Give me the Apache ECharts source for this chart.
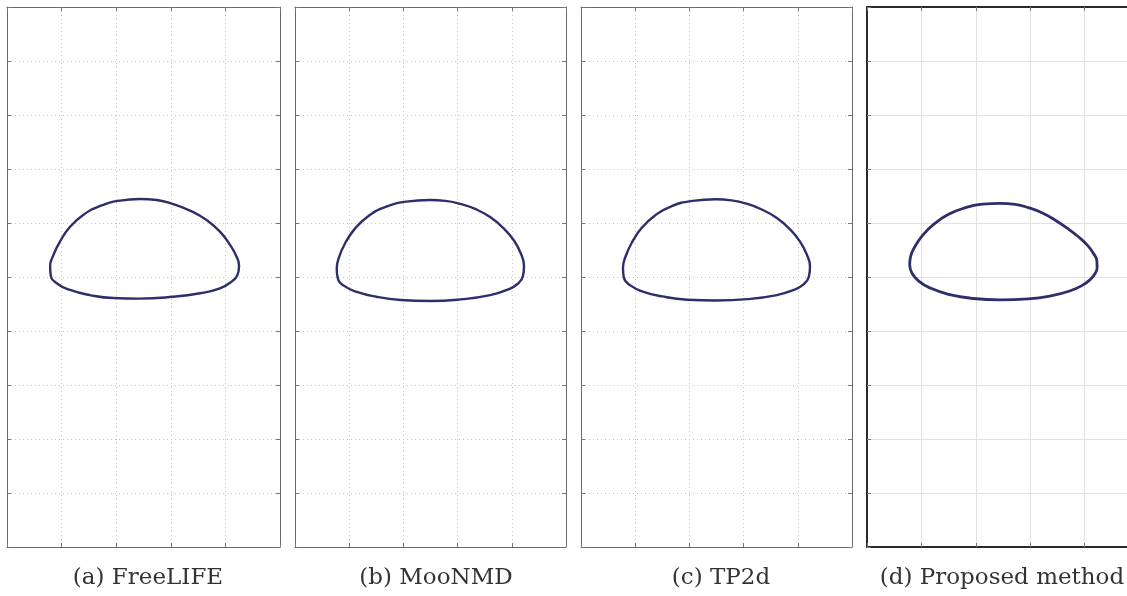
<!DOCTYPE html>
<html>
<head>
<meta charset="utf-8">
<script src="https://cdn.jsdelivr.net/npm/echarts@6/dist/echarts.min.js"></script>
<style>
  html, body { margin: 0; padding: 0; background: #ffffff; overflow: hidden; width: 1127px; height: 596px; }
  #chart { width: 1141px; height: 596px; }
</style>
</head>
<body>
<div id="chart"></div>
<script>
// Bubble interface contours (x in [0,1], y in [0,2]) for four solvers.
const captions = ['(a) FreeLIFE', '(b) MooNMD', '(c) TP2d', '(d) Proposed method'];

const freelifeX = [0.487, 0.548, 0.609, 0.670, 0.731, 0.780, 0.817, 0.841, 0.850, 0.844, 0.823, 0.780, 0.707, 0.609, 0.487, 0.389, 0.304, 0.231, 0.182, 0.160, 0.158, 0.170, 0.194, 0.231, 0.279, 0.341, 0.414];
const freelifeY = [1.289, 1.285, 1.270, 1.246, 1.211, 1.168, 1.119, 1.075, 1.041, 1.007, 0.983, 0.958, 0.940, 0.927, 0.920, 0.922, 0.933, 0.952, 0.977, 1.007, 1.041, 1.081, 1.131, 1.186, 1.230, 1.263, 1.283];

const moonmdX = [0.498, 0.555, 0.609, 0.665, 0.720, 0.770, 0.808, 0.833, 0.845, 0.841, 0.822, 0.785, 0.720, 0.620, 0.498, 0.390, 0.300, 0.228, 0.180, 0.158, 0.154, 0.162, 0.185, 0.222, 0.270, 0.330, 0.410];
const moonmdY = [1.285, 1.282, 1.271, 1.252, 1.222, 1.180, 1.135, 1.088, 1.040, 1.003, 0.975, 0.953, 0.933, 0.918, 0.911, 0.915, 0.927, 0.945, 0.968, 0.995, 1.030, 1.072, 1.125, 1.180, 1.225, 1.258, 1.279];

const tp2dX = [0.497, 0.555, 0.610, 0.665, 0.720, 0.769, 0.807, 0.832, 0.845, 0.841, 0.821, 0.783, 0.718, 0.615, 0.497, 0.392, 0.300, 0.228, 0.181, 0.158, 0.155, 0.164, 0.188, 0.225, 0.273, 0.333, 0.412];
const tp2dY = [1.288, 1.284, 1.272, 1.251, 1.220, 1.179, 1.133, 1.086, 1.040, 1.002, 0.973, 0.951, 0.932, 0.918, 0.913, 0.916, 0.928, 0.946, 0.970, 0.998, 1.033, 1.075, 1.128, 1.183, 1.228, 1.262, 1.282];

const proposedX = [0.489, 0.545, 0.593, 0.645, 0.691, 0.737, 0.777, 0.810, 0.832, 0.845, 0.846, 0.838, 0.820, 0.790, 0.745, 0.680, 0.593, 0.489, 0.385, 0.300, 0.235, 0.190, 0.165, 0.157, 0.160, 0.176, 0.205, 0.245, 0.300, 0.360, 0.425];
const proposedY = [1.273, 1.269, 1.257, 1.237, 1.211, 1.180, 1.149, 1.118, 1.088, 1.060, 1.035, 1.012, 0.990, 0.968, 0.948, 0.931, 0.919, 0.915, 0.921, 0.936, 0.958, 0.985, 1.015, 1.045, 1.075, 1.112, 1.155, 1.195, 1.232, 1.256, 1.270];

const contours = [
  [freelifeX, freelifeY],
  [moonmdX, moonmdY],
  [tp2dX, tp2dY],
  [proposedX, proposedY]
];

// closed polyline: repeat the first vertex at the end
function closedPath(xs, ys) {
  const pts = xs.map((x, i) => [x, ys[i]]);
  pts.push(pts[0]);
  return pts;
}

const panels = [
  { left: 7,   width: 273, dotted: true },
  { left: 295, width: 271, dotted: true },
  { left: 581, width: 271, dotted: true },
  { left: 867, width: 272, dotted: false }
];
const captionCenters = [143, 431, 716, 997];

const grids = [], xAxes = [], yAxes = [], series = [], titles = [];

panels.forEach((p, i) => {
  grids.push({ left: p.left, top: 7, width: p.width, height: 540, containLabel: false });
  const border = p.dotted ? { color: '#6a6a6a', width: 1 } : { color: '#2a2a2a', width: 2 };
  const split = p.dotted
    ? { show: true, lineStyle: { color: '#c8c8c8', width: 1, type: [1, 3] } }
    : { show: true, lineStyle: { color: '#e2e2e2', width: 1, type: 'solid' } };
  const tick = { show: true, inside: true, length: 4, lineStyle: { color: '#777', width: 1 } };
  ['bottom', 'top'].forEach((pos, k) => {
    xAxes.push({
      type: 'value', gridIndex: i, position: pos, min: 0, max: 1, interval: 0.2,
      axisLine: { show: true, onZero: false, lineStyle: border },
      axisTick: tick, axisLabel: { show: false },
      splitLine: k === 0 ? split : { show: false }
    });
  });
  ['left', 'right'].forEach((pos, k) => {
    yAxes.push({
      type: 'value', gridIndex: i, position: pos, min: 0, max: 2, interval: 0.2,
      axisLine: { show: true, onZero: false, lineStyle: border },
      axisTick: tick, axisLabel: { show: false },
      splitLine: k === 0 ? split : { show: false }
    });
  });
  series.push({
    type: 'line',
    xAxisIndex: i * 2, yAxisIndex: i * 2,
    data: closedPath(contours[i][0], contours[i][1]),
    smooth: 0.5, symbol: 'none', silent: true,
    lineStyle: { color: '#2e2e6a', width: p.dotted ? 2.4 : 2.8 }
  });
  titles.push({
    text: captions[i], left: captionCenters[i], top: 562, textAlign: 'center',
    textStyle: { fontFamily: 'DejaVu Serif', fontSize: 23, fontWeight: 'normal', color: '#333' }
  });
});

const chart = echarts.init(document.getElementById('chart'), null, { renderer: 'canvas' });
chart.setOption({
  backgroundColor: '#ffffff',
  animation: false,
  title: titles,
  grid: grids,
  xAxis: xAxes,
  yAxis: yAxes,
  series: series
});
</script>
</body>
</html>
